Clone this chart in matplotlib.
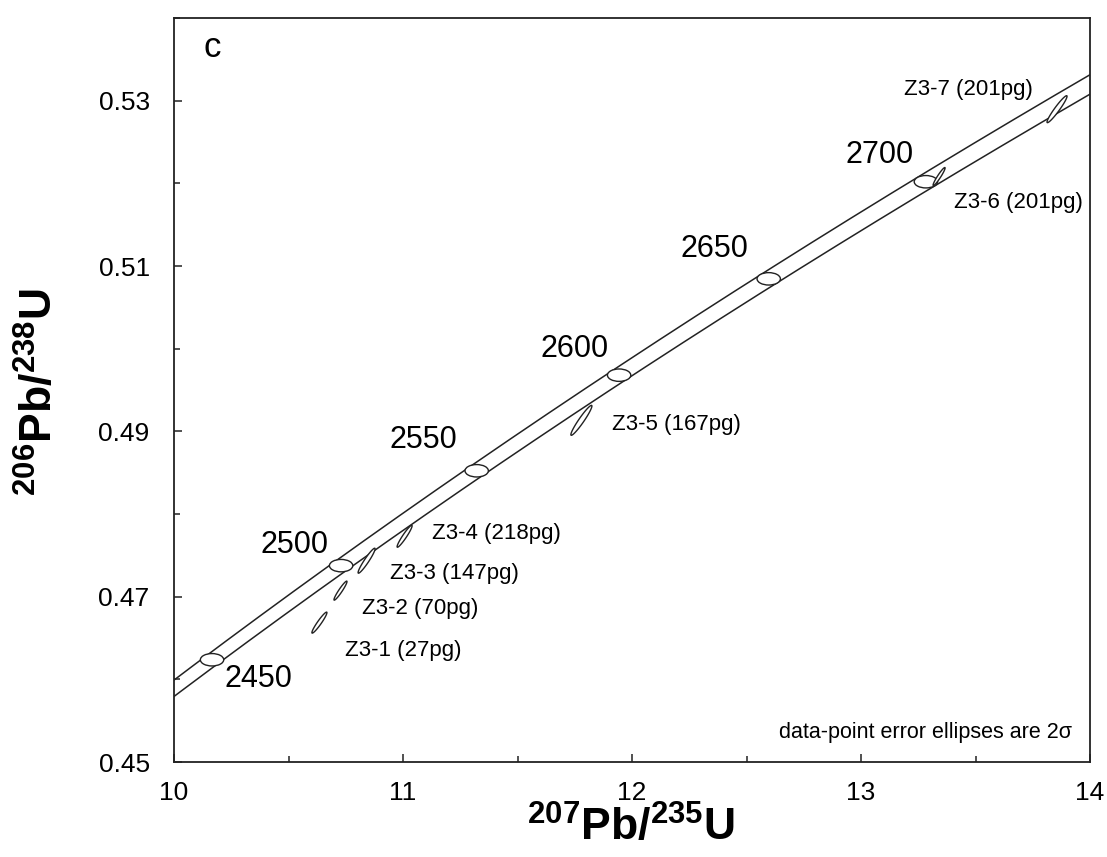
import numpy as np
import matplotlib
matplotlib.use("Agg")
import matplotlib.pyplot as plt
from matplotlib.patches import Ellipse, Polygon

plt.rcParams['font.family'] = ['Liberation Sans', 'DejaVu Sans']
plt.rcParams['mathtext.fontset'] = 'custom'
plt.rcParams['mathtext.rm'] = 'Liberation Sans'
plt.rcParams['mathtext.bf'] = 'Liberation Sans:bold'
plt.rcParams['mathtext.it'] = 'Liberation Sans:italic'

# ---- data ----
# decay constants (per year)
LAMBDA_238 = 1.55125e-10
LAMBDA_235 = 9.8485e-10
BAND_REL = 0.0018          # relative decay-constant band half-width

marker_ages = [2450, 2500, 2550, 2600, 2650, 2700]   # Ma

sample_names = ["Z3-1 (27pg)", "Z3-2 (70pg)", "Z3-3 (147pg)", "Z3-4 (218pg)",
                "Z3-5 (167pg)", "Z3-6 (201pg)", "Z3-7 (201pg)"]
pb207_u235 = [10.635, 10.727, 10.841, 11.007, 11.779, 13.341, 13.856]
pb206_u238 = [0.46686, 0.47073, 0.47435, 0.47731, 0.49133, 0.52082, 0.52897]
err_x_2s = [0.0328, 0.0284, 0.0371, 0.0328, 0.0459, 0.0262, 0.0437]
err_y_2s = [0.00127, 0.00115, 0.00151, 0.00133, 0.00181, 0.00109, 0.00163]
rho = [0.95, 0.95, 0.95, 0.95, 0.955, 0.95, 0.955]

x_ticks = [10, 11, 12, 13, 14]
y_ticks = [0.45, 0.47, 0.49, 0.51, 0.53]


def concordia(t_ma, l235=LAMBDA_235):
    t = np.asarray(t_ma) * 1e6
    return np.exp(l235 * t) - 1.0, np.exp(LAMBDA_238 * t) - 1.0


fig = plt.figure(figsize=(11.07, 8.57), dpi=100)
ax = fig.add_axes([174/1107, 1 - 762/857, 916/1107, 744/857])
ax.set_xlim(10, 14)
ax.set_ylim(0.45, 0.54)

# concordia band
t = np.linspace(2380, 2800, 600)
for s in (-1, 1):
    xb, yb = concordia(t, LAMBDA_235 * (1 + s * BAND_REL))
    ax.plot(xb, yb, color='#222222', lw=1.1, zorder=2)

# age markers
for a in marker_ages:
    xm, ym = concordia(a)
    ax.add_patch(Ellipse((xm, ym), 0.102, 0.0015, facecolor='white',
                         edgecolor='#222222', lw=1.0, zorder=3))

age_label_pos = {2450: (10.367, 0.46003), 2500: (10.528, 0.47622),
                 2550: (11.087, 0.48891), 2600: (11.747, 0.49991),
                 2650: (12.362, 0.51211), 2700: (13.083, 0.52347)}
for a in marker_ages:
    px, py = age_label_pos[a]
    ax.text(px, py, str(a), fontsize=22, ha='center', va='center', zorder=5)

# data-point error ellipses
th = np.linspace(0, 2*np.pi, 200)
for x0, y0, sx, sy, r in zip(pb207_u235, pb206_u238, err_x_2s, err_y_2s, rho):
    ex = x0 + sx * np.cos(th)
    ey = y0 + sy * (r * np.cos(th) + np.sqrt(1 - r**2) * np.sin(th))
    ax.add_patch(Polygon(np.column_stack([ex, ey]), closed=True,
                         facecolor='white', edgecolor='#222222', lw=1.0, zorder=4))

sample_label_pos = [(10.747, 0.46353), (10.821, 0.46861), (10.943, 0.47284),
                    (11.127, 0.47767), (11.913, 0.49085), (13.406, 0.51767),
                    (13.188, 0.53133)]
for name, (px, py) in zip(sample_names, sample_label_pos):
    ax.text(px, py, name, fontsize=16, ha='left', va='center', zorder=5)

ax.text(0.0415, 0.961, 'c', transform=ax.transAxes, fontsize=25,
        ha='center', va='center')
ax.text(0.980, 0.040, 'data-point error ellipses are 2σ', transform=ax.transAxes,
        fontsize=15.5, ha='right', va='center')

ax.set_xticks(x_ticks)
ax.set_xticklabels([str(v) for v in x_ticks])
ax.set_yticks(y_ticks)
ax.set_yticklabels(['%.2f' % v for v in y_ticks])
ax.set_xticks(np.arange(10.5, 14, 1.0), minor=True)
ax.set_yticks(np.arange(0.46, 0.54, 0.02), minor=True)
ax.tick_params(which='both', direction='in', labelsize=19, width=1.1,
               color='#222222')
ax.tick_params(which='major', length=5.5)
ax.tick_params(which='minor', length=4.5)
ax.tick_params(axis='x', pad=14)
ax.tick_params(axis='y', pad=17.5)
for sp in ax.spines.values():
    sp.set_linewidth(1.3)
    sp.set_color('#222222')

fig.text(631/1107, 1 - 828/857, r'$\mathbf{^{207}Pb/^{235}U}$', fontsize=32,
         ha='center', va='center')
fig.text(40/1107, 1 - 392/857, r'$\mathbf{^{206}Pb/^{238}U}$', fontsize=32,
         ha='center', va='center', rotation=90)

fig.savefig('out.png', dpi=100)
